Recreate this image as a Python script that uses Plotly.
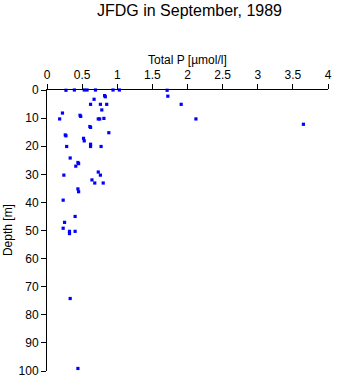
import plotly.graph_objects as go

# Data: Total P [µmol/l] vs Depth [m]
depth = [0.1, 0, 0, 0, 0, 0, 0, 0.1, 2.2, 2.0, 2.4, 3.3, 5.1, 5.1, 5.1, 5.1, 7.1, 8.2,
         9.0, 9.4, 10.3, 10.3, 10.3, 10.1, 10.3, 12.2, 13.0, 13.3, 15.2, 16.0, 16.3,
         17.2, 18.1, 19.3, 20.1, 20.1, 20.1, 24.2, 25.8, 26.2, 27.1, 29.2, 30.3,
         30.3, 32.0, 33.1, 33.1, 35.2, 36.2, 39.2, 45.0, 47.1, 49.2, 50.3, 51.1,
         50.3, 74.2, 99.1]
total_p = [0.27, 0.39, 0.53, 0.57, 0.69, 0.94, 1.03, 1.71, 1.72, 0.82, 0.83, 0.67,
           0.62, 0.76, 0.85, 1.91, 0.78, 0.22, 0.47, 0.48, 0.18, 0.73, 0.75, 0.81,
           2.12, 3.65, 0.61, 0.62, 0.88, 0.26, 0.27, 0.52, 0.53, 0.62, 0.62, 0.77,
           0.28, 0.33, 0.44, 0.45, 0.41, 0.73, 0.76, 0.24, 0.64, 0.68, 0.80, 0.44,
           0.45, 0.23, 0.40, 0.25, 0.23, 0.32, 0.32, 0.40, 0.33, 0.44]

title_text = "JFDG in September, 1989"
x_label = "Total P [µmol/l]"
y_label = "Depth [m]"
x_ticks = [0, 0.5, 1, 1.5, 2, 2.5, 3, 3.5, 4]
y_ticks = [0, 10, 20, 30, 40, 50, 60, 70, 80, 90, 100]

FONT = "Liberation Sans, Arial, Helvetica, sans-serif"

fig = go.Figure()
fig.add_trace(go.Scatter(
    x=total_p, y=depth, mode="markers",
    marker=dict(symbol="square", size=3.2, color="#0000ff", line=dict(width=0)),
    cliponaxis=False, showlegend=False,
))

W, H = 338, 384
L, R, T, B = 47, 6, 90, 9
fig.update_layout(
    width=W, height=H,
    margin=dict(l=L, r=R, t=T, b=B, pad=0),
    paper_bgcolor="white", plot_bgcolor="white",
    font=dict(family=FONT, size=12, color="black"),
    title=dict(text=title_text, x=(L + (W - L - R) / 2) / W, xanchor="center",
               y=1 - 10 / H, yanchor="middle", font=dict(size=16, family=FONT)),
    xaxis=dict(
        side="top", range=[0, 4], tickvals=x_ticks, ticktext=[f"{v:g}" for v in x_ticks],
        ticks="outside", ticklen=5, tickwidth=1, tickcolor="black",
        showline=True, linecolor="black", linewidth=1, mirror=False,
        showgrid=False, zeroline=False, tickfont=dict(size=12),
    ),
    yaxis=dict(
        range=[100, 0], tickvals=y_ticks,
        ticks="outside", ticklen=5, tickwidth=1, tickcolor="black",
        showline=True, linecolor="black", linewidth=1, mirror=False,
        showgrid=False, zeroline=False, tickfont=dict(size=12),
    ),
    annotations=[
        dict(text=x_label, xref="paper", yref="paper", x=0.5, y=1 + 30 / (H - T - B),
             xanchor="center", yanchor="middle", showarrow=False, font=dict(size=12)),
        dict(text=y_label, xref="paper", yref="paper", x=(7 - L) / (W - L - R), y=0.5,
             xanchor="center", yanchor="middle", textangle=-90, showarrow=False,
             font=dict(size=12)),
    ],
)

fig.write_html("out.html")
